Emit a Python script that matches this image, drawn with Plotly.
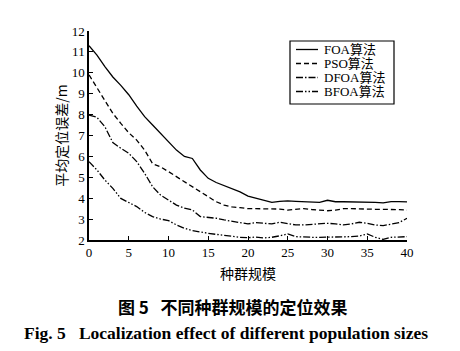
import plotly.graph_objects as go

x = list(range(0, 41))
foa = [11.3, 10.85, 10.3, 9.8, 9.4, 8.95, 8.4, 7.9, 7.5, 7.1, 6.66, 6.3, 6.0, 5.9, 5.35, 4.95,
       4.75, 4.6, 4.45, 4.3, 4.1, 4.0, 3.9, 3.8, 3.85, 3.87, 3.85, 3.83, 3.8, 3.8, 3.9, 3.83,
       3.83, 3.83, 3.8, 3.8, 3.8, 3.78, 3.84, 3.84, 3.82]
pso = [9.9, 9.3, 8.7, 8.06, 7.58, 7.13, 6.78, 6.3, 5.65, 5.5, 5.27, 5.03, 4.8, 4.55, 4.3, 4.07,
       3.83, 3.67, 3.58, 3.55, 3.5, 3.5, 3.5, 3.5, 3.48, 3.43, 3.47, 3.5, 3.46, 3.43, 3.4, 3.43,
       3.5, 3.5, 3.48, 3.48, 3.47, 3.47, 3.47, 3.45, 3.43]
dfoa = [7.98, 7.87, 7.42, 6.66, 6.39, 6.15, 5.75, 5.19, 4.55, 4.15, 3.91, 3.67, 3.52, 3.44, 3.12, 3.08,
        3.04, 2.96, 2.88, 2.83, 2.77, 2.83, 2.8, 2.77, 2.85, 2.8, 2.72, 2.72, 2.75, 2.75, 2.8, 2.77,
        2.72, 2.77, 2.85, 2.8, 2.72, 2.69, 2.77, 2.83, 3.04]
bfoa = [5.75, 5.35, 4.87, 4.47, 3.99, 3.79, 3.6, 3.32, 3.12, 3.0, 2.93, 2.72, 2.56, 2.45, 2.37, 2.32,
        2.27, 2.22, 2.19, 2.13, 2.11, 2.14, 2.1, 2.13, 2.2, 2.29, 2.16, 2.13, 2.13, 2.13, 2.13, 2.13,
        2.13, 2.16, 2.19, 2.29, 2.13, 2.03, 2.13, 2.16, 2.16]

names = ["FOA算法", "PSO算法", "DFOA算法", "BFOA算法"]
dashes = ["solid", "5px,3px", "7px,2px,1.5px,2px", "7px,2px,1.5px,2px,1.5px,2px"]
series = [foa, pso, dfoa, bfoa]

xticks = list(range(0, 41, 5))
yticks = list(range(2, 13))

W, H = 460, 351
L, R, T, B = 89, 407, 31, 240  # plot area in pixels

SERIF = "Liberation Serif, Times New Roman, Noto Sans CJK SC, serif"
CJK = "Noto Sans CJK SC, sans-serif"

fig = go.Figure()
for name, ys, d in zip(names, series, dashes):
    fig.add_trace(go.Scatter(x=x, y=ys, mode="lines", name=name, showlegend=False,
                             line=dict(color="black", width=1.3, dash=d)))

def px_x(p):
    return (p - L) / (R - L)

def px_y(p):
    return (B - p) / (B - T)

shapes = []
annotations = []
# manual legend box
shapes.append(dict(type="rect", xref="paper", yref="paper",
                   x0=px_x(290), x1=px_x(394), y0=px_y(104), y1=px_y(41),
                   line=dict(color="black", width=1.2), fillcolor="white", layer="above"))
rows = [49.5, 63.5, 77.5, 91.5]
for name, d, ry in zip(names, dashes, rows):
    shapes.append(dict(type="line", xref="paper", yref="paper",
                       x0=px_x(296), x1=px_x(318), y0=px_y(ry), y1=px_y(ry),
                       line=dict(color="black", width=1.3, dash=d), layer="above"))
    annotations.append(dict(xref="paper", yref="paper", x=px_x(322), y=px_y(ry),
                            xanchor="left", yanchor="middle", showarrow=False,
                            text=name, font=dict(family=SERIF, size=13, color="black")))

# captions
annotations.append(dict(xref="paper", yref="paper", x=px_x(232), y=px_y(306),
                        xanchor="center", yanchor="middle", showarrow=False,
                        text="<b>图 5   不同种群规模的定位效果</b>",
                        font=dict(family=CJK, size=17, color="black")))
annotations.append(dict(xref="paper", yref="paper", x=px_x(226), y=px_y(333),
                        xanchor="center", yanchor="middle", showarrow=False,
                        text="<b>Fig. 5   Localization effect of different population sizes</b>",
                        font=dict(family=SERIF, size=17.5, color="black")))

fig.update_layout(
    width=W, height=H,
    margin=dict(l=L, r=W - R, t=T, b=H - B, pad=0),
    paper_bgcolor="white", plot_bgcolor="white",
    shapes=shapes, annotations=annotations,
    xaxis=dict(range=[0, 40], tickvals=xticks, ticks="inside", ticklen=4, tickwidth=1,
               tickcolor="black", showline=True, linecolor="black", linewidth=1.5,
               showgrid=False, zeroline=False,
               tickfont=dict(family=SERIF, size=13, color="black"),
               title=dict(text="种群规模", font=dict(family=CJK, size=14, color="black"), standoff=10)),
    yaxis=dict(range=[2, 12], tickvals=yticks, ticks="inside", ticklen=4, tickwidth=1,
               tickcolor="black", showline=True, linecolor="black", linewidth=1.5,
               showgrid=False, zeroline=False,
               tickfont=dict(family=SERIF, size=13, color="black"),
               title=dict(text="平均定位误差/m", font=dict(family=CJK, size=14, color="black"), standoff=1)),
)

fig.write_html("out.html")
